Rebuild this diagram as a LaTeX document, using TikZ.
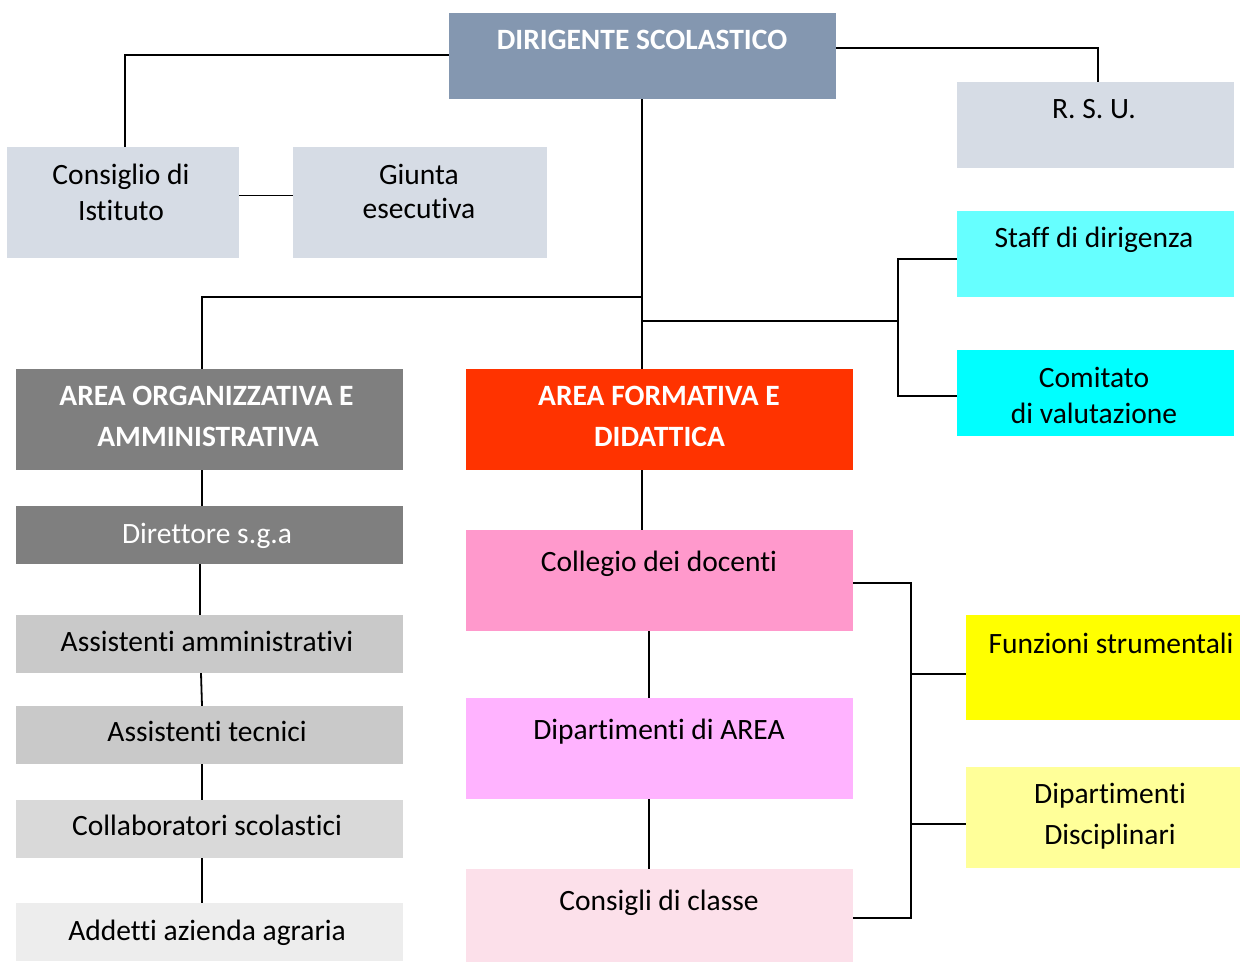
\documentclass[tikz,border=0pt]{standalone}
\usepackage{fontspec}
\setmainfont{Carlito}[Ligatures=NoCommon]
\definecolor{cDir}{HTML}{8497B0}
\definecolor{cPale}{HTML}{D6DCE5}
\definecolor{cStaff}{HTML}{66FFFF}
\definecolor{cComi}{HTML}{00FFFF}
\definecolor{cDark}{HTML}{7F7F7F}
\definecolor{cAss}{HTML}{C9C9C9}
\definecolor{cColl}{HTML}{D9D9D9}
\definecolor{cAdd}{HTML}{EDEDED}
\definecolor{cRed}{HTML}{FF3300}
\definecolor{cColleg}{HTML}{FF99CC}
\definecolor{cDipa}{HTML}{FFB3FF}
\definecolor{cCons}{HTML}{FCE0EA}
\definecolor{cFunz}{HTML}{FFFF00}
\definecolor{cDipd}{HTML}{FFFF99}
\begin{document}
\begin{tikzpicture}[x=1pt,y=-1pt,
  box/.style={rectangle, inner sep=0pt, draw=none},
  txt/.style={anchor=base, inner sep=0pt, font=\fontsize{29.5}{35}\selectfont},
  wtxt/.style={txt, text=white},
  btxt/.style={anchor=base, inner sep=0pt, text=white, font=\fontsize{29.5}{35}\selectfont\bfseries},
  conn/.style={line width=1.8pt, black}]
\useasboundingbox (0,0) rectangle (1240,964);
% boxes
\node[box, fill=cDir, minimum width=387pt, minimum height=86pt] (dir) at (642.5,56) {};
\node[box, fill=cPale, minimum width=277pt, minimum height=86pt] (rsu) at (1095.5,125) {};
\node[box, fill=cPale, minimum width=232pt, minimum height=111pt] (cons) at (123,202.5) {};
\node[box, fill=cPale, minimum width=254pt, minimum height=111pt] (giun) at (420,202.5) {};
\node[box, fill=cStaff, minimum width=277pt, minimum height=86pt] (staff) at (1095.5,254) {};
\node[box, fill=cComi, minimum width=277pt, minimum height=86pt] (comi) at (1095.5,393) {};
\node[box, fill=cDark, minimum width=387pt, minimum height=101pt] (aorg) at (209.5,419.5) {};
\node[box, fill=cRed, minimum width=387pt, minimum height=101pt] (aform) at (659.5,419.5) {};
\node[box, fill=cDark, minimum width=387pt, minimum height=58pt] (dsga) at (209.5,535) {};
\node[box, fill=cAss, minimum width=387pt, minimum height=58pt] (asam) at (209.5,644) {};
\node[box, fill=cAss, minimum width=387pt, minimum height=58pt] (aste) at (209.5,735) {};
\node[box, fill=cColl, minimum width=387pt, minimum height=58pt] (coll) at (209.5,829) {};
\node[box, fill=cAdd, minimum width=387pt, minimum height=58pt] (adde) at (209.5,932) {};
\node[box, fill=cColleg, minimum width=387pt, minimum height=101pt] (colleg) at (659.5,580.5) {};
\node[box, fill=cDipa, minimum width=387pt, minimum height=101pt] (dipa) at (659.5,748.5) {};
\node[box, fill=cCons, minimum width=387pt, minimum height=93pt] (cons2) at (659.5,915.5) {};
\node[box, fill=cFunz, minimum width=274pt, minimum height=105pt] (funz) at (1103,667.5) {};
\node[box, fill=cDipd, minimum width=274pt, minimum height=101pt] (dipd) at (1103,817.5) {};
% texts
\node[btxt] (dirT) at (642,49) {DIRIGENTE SCOLASTICO};
\node[txt] (rsuT) at (1094,118) {R. S. U.};
\node[txt] (consT1) at (121,184) {Consiglio di};
\node[txt] (consT2) at (121,220) {Istituto};
\node[txt] (giunT1) at (419,184) {Giunta};
\node[txt] (giunT2) at (419,218) {esecutiva};
\node[txt] (staffT) at (1094,247) {Staff di dirigenza};
\node[txt] (comiT1) at (1094,387) {Comitato};
\node[txt] (comiT2) at (1094,423) {di valutazione};
\node[btxt] (aorgT1) at (206.5,405) {AREA ORGANIZZATIVA E};
\node[btxt] (aorgT2) at (208,446) {AMMINISTRATIVA};
\node[btxt] (aformT1) at (659,405) {AREA FORMATIVA E};
\node[btxt] (aformT2) at (659.5,446) {DIDATTICA};
\node[wtxt] (dsgaT) at (207,543) {Direttore s.g.a};
\node[txt] (asamT) at (207,651) {Assistenti amministrativi};
\node[txt] (asteT) at (207,741) {Assistenti tecnici};
\node[txt] (collT) at (207,835) {Collaboratori scolastici};
\node[txt] (addeT) at (207,940) {Addetti azienda agraria};
\node[txt] (collegT) at (659,571) {Collegio dei docenti};
\node[txt] (dipaT) at (659,739) {Dipartimenti di AREA};
\node[txt] (cons2T) at (659,910) {Consigli di classe};
\node[txt] (funzT) at (1111,653) {Funzioni strumentali};
\node[txt] (dipdT1) at (1110,803) {Dipartimenti};
\node[txt] (dipdT2) at (1110,844) {Disciplinari};
% junction coordinates
\coordinate (j1) at (642,297);
\coordinate (j2) at (642,321);
\coordinate (j3) at (898,321);
\coordinate (b2) at (911,918);
% connectors
\draw[conn] ([yshift=1pt]dir.west) -| ([xshift=2pt]cons.north);
\draw[conn] ([yshift=8pt]dir.east) -| ([xshift=2.5pt]rsu.north);
\draw[conn] ([yshift=7pt]cons.east) -- ([yshift=7pt]giun.west);
\draw[conn] ([xshift=-0.5pt]dir.south) -- ([xshift=-17.5pt]aform.north);
\draw[conn] (j1) -| ([xshift=-7.5pt]aorg.north);
\draw[conn] (j2) -- (j3);
\draw[conn] ([yshift=-5pt]staff.west) -| (j3) |- ([yshift=-3pt]comi.west);
\draw[conn] ([xshift=-7.5pt]aorg.south) -- ([xshift=-7.5pt]dsga.north);
\draw[conn] ([xshift=-9.5pt]dsga.south) -- ([xshift=-9.5pt]asam.north);
\draw[conn] ([xshift=-8.5pt]asam.south) -- ([xshift=-7.5pt]aste.north);
\draw[conn] ([xshift=-7.5pt]aste.south) -- ([xshift=-7.5pt]coll.north);
\draw[conn] ([xshift=-7.5pt]coll.south) -- ([xshift=-7.5pt]adde.north);
\draw[conn] ([xshift=-17.5pt]aform.south) -- ([xshift=-17.5pt]colleg.north);
\draw[conn] ([xshift=-10.5pt]colleg.south) -- ([xshift=-10.5pt]dipa.north);
\draw[conn] ([xshift=-10.5pt]dipa.south) -- ([xshift=-10.5pt]cons2.north);
\draw[conn] ([yshift=-2.5pt]colleg.east) -| (b2) -- ([yshift=-2.5pt]cons2.east);
\draw[conn] ([yshift=-6.5pt]funz.west) -- ([yshift=-6.5pt,xshift=-55pt]funz.west);
\draw[conn] ([yshift=-6.5pt]dipd.west) -- ([yshift=-6.5pt,xshift=-55pt]dipd.west);
\end{tikzpicture}
\end{document}
